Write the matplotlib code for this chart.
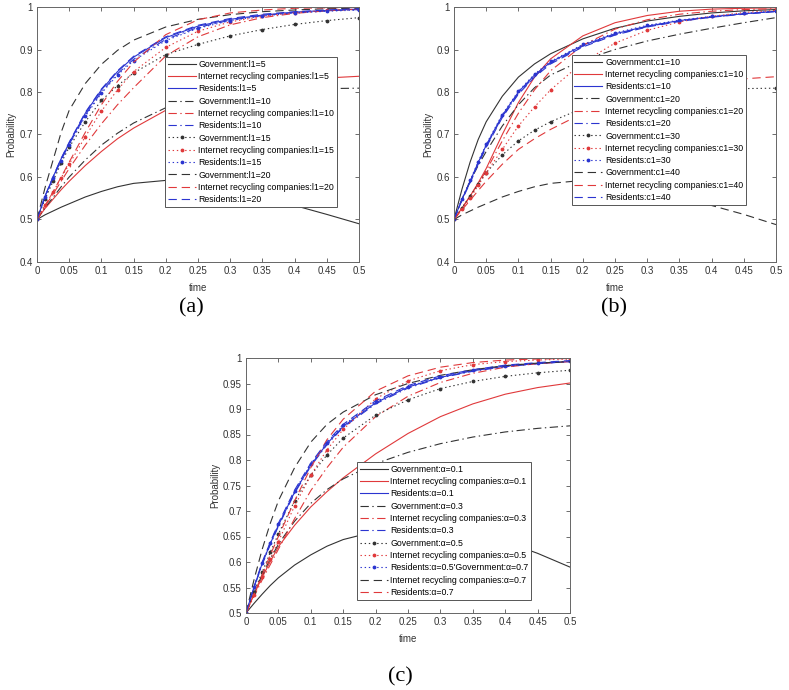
import numpy as np
import matplotlib.pyplot as plt

plt.rcParams['font.family'] = ['Liberation Sans', 'DejaVu Sans']
plt.rcParams['lines.scale_dashes'] = False

# time points
t = [0, 0.0125, 0.025, 0.0375, 0.05, 0.075, 0.1, 0.125, 0.15, 0.2, 0.25, 0.3, 0.35, 0.4, 0.45, 0.5]

# (a) l1 = 5, 10, 15, 20
a_gov_5 = [0.5, 0.511, 0.52, 0.529, 0.537, 0.553, 0.566, 0.577, 0.585, 0.592, 0.587, 0.576, 0.557, 0.533, 0.512, 0.49]
a_irc_5 = [0.5, 0.526, 0.548, 0.57, 0.59, 0.627, 0.66, 0.69, 0.715, 0.757, 0.786, 0.805, 0.818, 0.827, 0.833, 0.837]
a_res_5 = [0.5, 0.555, 0.6, 0.643, 0.68, 0.75, 0.805, 0.848, 0.882, 0.928, 0.955, 0.971, 0.981, 0.988, 0.992, 0.995]
a_gov_10 = [0.5, 0.528, 0.552, 0.577, 0.6, 0.64, 0.675, 0.703, 0.727, 0.763, 0.783, 0.795, 0.802, 0.806, 0.808, 0.809]
a_irc_10 = [0.5, 0.531, 0.56, 0.59, 0.62, 0.675, 0.725, 0.77, 0.81, 0.885, 0.93, 0.958, 0.975, 0.985, 0.991, 0.995]
a_res_10 = [0.5, 0.553, 0.598, 0.64, 0.677, 0.746, 0.8, 0.843, 0.877, 0.924, 0.952, 0.969, 0.98, 0.987, 0.991, 0.994]
a_gov_15 = [0.5, 0.548, 0.59, 0.633, 0.67, 0.73, 0.78, 0.815, 0.845, 0.888, 0.912, 0.932, 0.947, 0.959, 0.968, 0.975]
a_irc_15 = [0.5, 0.533, 0.565, 0.598, 0.63, 0.695, 0.755, 0.805, 0.848, 0.905, 0.943, 0.965, 0.978, 0.987, 0.992, 0.995]
a_res_15 = [0.5, 0.552, 0.597, 0.638, 0.675, 0.743, 0.797, 0.84, 0.874, 0.921, 0.95, 0.968, 0.979, 0.986, 0.99, 0.993]
a_gov_20 = [0.5, 0.575, 0.64, 0.705, 0.757, 0.82, 0.865, 0.898, 0.922, 0.953, 0.971, 0.982, 0.989, 0.993, 0.996, 0.997]
a_irc_20 = [0.5, 0.533, 0.565, 0.6, 0.635, 0.705, 0.77, 0.825, 0.87, 0.935, 0.97, 0.986, 0.993, 0.997, 0.998, 0.999]
a_res_20 = [0.5, 0.555, 0.601, 0.644, 0.682, 0.752, 0.807, 0.85, 0.884, 0.93, 0.957, 0.973, 0.983, 0.989, 0.993, 0.996]

# (b) c1 = 10, 20, 30, 40
b_gov_10 = [0.5, 0.572, 0.635, 0.688, 0.73, 0.79, 0.835, 0.866, 0.89, 0.925, 0.95, 0.967, 0.978, 0.986, 0.991, 0.994]
b_irc_10 = [0.5, 0.527, 0.555, 0.586, 0.62, 0.7, 0.775, 0.835, 0.878, 0.932, 0.963, 0.98, 0.99, 0.995, 0.997, 0.998]
b_res_10 = [0.5, 0.548, 0.59, 0.634, 0.675, 0.745, 0.8, 0.84, 0.87, 0.91, 0.937, 0.955, 0.968, 0.977, 0.984, 0.99]
b_gov_20 = [0.5, 0.548, 0.59, 0.627, 0.66, 0.72, 0.77, 0.81, 0.84, 0.875, 0.9, 0.92, 0.936, 0.95, 0.963, 0.975]
b_irc_20 = [0.5, 0.527, 0.555, 0.584, 0.615, 0.685, 0.75, 0.805, 0.85, 0.91, 0.948, 0.97, 0.983, 0.99, 0.994, 0.996]
b_res_20 = [0.5, 0.547, 0.588, 0.632, 0.672, 0.742, 0.797, 0.837, 0.868, 0.908, 0.935, 0.954, 0.967, 0.976, 0.984, 0.99]
b_gov_30 = [0.5, 0.528, 0.555, 0.583, 0.61, 0.652, 0.685, 0.71, 0.73, 0.762, 0.782, 0.795, 0.802, 0.806, 0.808, 0.809]
b_irc_30 = [0.5, 0.525, 0.55, 0.58, 0.61, 0.665, 0.72, 0.765, 0.805, 0.87, 0.915, 0.945, 0.965, 0.978, 0.987, 0.992]
b_res_30 = [0.5, 0.549, 0.592, 0.636, 0.677, 0.747, 0.802, 0.842, 0.872, 0.912, 0.939, 0.957, 0.969, 0.978, 0.985, 0.99]
b_gov_40 = [0.5, 0.511, 0.52, 0.529, 0.537, 0.553, 0.566, 0.577, 0.585, 0.592, 0.587, 0.576, 0.557, 0.533, 0.512, 0.488]
b_irc_40 = [0.5, 0.523, 0.545, 0.568, 0.59, 0.63, 0.665, 0.69, 0.712, 0.75, 0.777, 0.797, 0.812, 0.823, 0.831, 0.836]
b_res_40 = [0.5, 0.546, 0.586, 0.63, 0.67, 0.74, 0.795, 0.835, 0.866, 0.906, 0.934, 0.953, 0.966, 0.976, 0.983, 0.989]

# (c) alpha = 0.1, 0.3, 0.5, 0.7
c_gov_1 = [0.5, 0.519, 0.537, 0.554, 0.569, 0.594, 0.614, 0.631, 0.644, 0.66, 0.667, 0.665, 0.656, 0.64, 0.617, 0.59]
c_irc_1 = [0.5, 0.537, 0.57, 0.601, 0.63, 0.672, 0.708, 0.738, 0.765, 0.812, 0.852, 0.885, 0.91, 0.929, 0.942, 0.951]
c_res_1 = [0.5, 0.551, 0.597, 0.636, 0.672, 0.737, 0.79, 0.832, 0.866, 0.912, 0.943, 0.962, 0.975, 0.984, 0.989, 0.993]
c_gov_3 = [0.5, 0.54, 0.575, 0.606, 0.635, 0.68, 0.715, 0.742, 0.763, 0.793, 0.815, 0.832, 0.845, 0.855, 0.862, 0.867]
c_irc_3 = [0.5, 0.533, 0.565, 0.595, 0.625, 0.685, 0.74, 0.785, 0.825, 0.885, 0.925, 0.952, 0.97, 0.982, 0.989, 0.993]
c_res_3 = [0.5, 0.55, 0.595, 0.634, 0.67, 0.735, 0.788, 0.83, 0.864, 0.91, 0.941, 0.961, 0.974, 0.983, 0.989, 0.993]
c_gov_5 = [0.5, 0.542, 0.58, 0.619, 0.655, 0.72, 0.77, 0.81, 0.843, 0.888, 0.918, 0.94, 0.954, 0.964, 0.971, 0.976]
c_irc_5 = [0.5, 0.536, 0.57, 0.606, 0.64, 0.71, 0.77, 0.82, 0.86, 0.92, 0.955, 0.975, 0.987, 0.993, 0.996, 0.998]
c_res_5 = [0.5, 0.551, 0.598, 0.637, 0.674, 0.739, 0.792, 0.834, 0.868, 0.914, 0.944, 0.963, 0.976, 0.985, 0.99, 0.994]
c_gov_7 = [0.5, 0.566, 0.625, 0.676, 0.72, 0.785, 0.835, 0.87, 0.894, 0.928, 0.95, 0.966, 0.977, 0.985, 0.99, 0.993]
c_irc_7 = [0.5, 0.538, 0.575, 0.614, 0.65, 0.72, 0.785, 0.84, 0.88, 0.935, 0.965, 0.982, 0.991, 0.996, 0.998, 0.999]
c_res_7 = [0.5, 0.552, 0.6, 0.639, 0.676, 0.741, 0.794, 0.836, 0.87, 0.916, 0.946, 0.965, 0.977, 0.986, 0.991, 0.995]

labels_a = ['Government:l1=5', 'Internet recycling companies:l1=5', 'Residents:l1=5',
            'Government:l1=10', 'Internet recycling companies:l1=10', 'Residents:l1=10',
            'Government:l1=15', 'Internet recycling companies:l1=15', 'Residents:l1=15',
            'Government:l1=20', 'Internet recycling companies:l1=20', 'Residents:l1=20']
labels_b = ['Government:c1=10', 'Internet recycling companies:c1=10', 'Residents:c1=10',
            'Government:c1=20', 'Internet recycling companies:c1=20', 'Residents:c1=20',
            'Government:c1=30', 'Internet recycling companies:c1=30', 'Residents:c1=30',
            'Government:c1=40', 'Internet recycling companies:c1=40', 'Residents:c1=40']
labels_c = ['Government:α=0.1', 'Internet recycling companies:α=0.1', 'Residents:α=0.1',
            'Government:α=0.3', 'Internet recycling companies:α=0.3', 'Residents:α=0.3',
            'Government:α=0.5', 'Internet recycling companies:α=0.5', "Residents:α=0.5'Government:α=0.7",
            'Internet recycling companies:α=0.7', 'Residents:α=0.7', '_nolegend_']

colors = ['#333333', '#e0393b', '#2b35d0']
# solid, dash-dot, dotted, dashed (matlab-like dash lengths)
styles = ['-', (0, (6, 2.5, 1, 2.5)), (0, (1, 2)), (0, (6, 3.5))]

fig = plt.figure(figsize=(7.89, 6.9), dpi=100)


def panel(rect, curves, labels, ylim, ystep, leg_xy, caption, cap_xy):
    ax = fig.add_axes(rect)
    for i, y in enumerate(curves):
        g = i // 3
        kw = dict(color=colors[i % 3], ls=styles[g], lw=0.8)
        if g == 2:
            kw.update(marker='.', ms=3.5)
        ax.plot(t, y, label=labels[i], **kw)
    ax.set_xlim(0, 0.5)
    ax.set_ylim(*ylim)
    ax.set_xticks(np.arange(0, 0.501, 0.05))
    ax.set_xticklabels(['0', '0.05', '0.1', '0.15', '0.2', '0.25', '0.3', '0.35', '0.4', '0.45', '0.5'])
    yt = np.arange(ylim[0], ylim[1] + 1e-6, ystep)
    ax.set_yticks(yt)
    ax.set_yticklabels(['%g' % round(v, 2) for v in yt])
    ax.tick_params(direction='in', top=True, right=True, length=3, width=0.6,
                   labelsize=7, colors='#555555', labelcolor='#333333', pad=3)
    for s in ax.spines.values():
        s.set_color('#666666')
        s.set_linewidth(0.7)
    ax.set_xlabel('time', fontsize=7, color='#333333', labelpad=5)
    ax.set_ylabel('Probability', fontsize=7, color='#333333', labelpad=2)
    leg = ax.legend(loc='upper left', bbox_to_anchor=leg_xy, borderaxespad=0,
                    fontsize=6.3, handlelength=3.2, labelspacing=0.38,
                    handletextpad=0.3, borderpad=0.3, fancybox=False, framealpha=1)
    leg.get_frame().set_edgecolor('#555555')
    leg.get_frame().set_linewidth(0.7)
    fig.text(cap_xy[0], cap_xy[1], caption, fontsize=16, family='Liberation Serif',
             ha='center', va='center')
    return ax


W, H = 789.0, 690.0
panel([37 / W, 1 - 262 / H, 322 / W, 255 / H],
      [a_gov_5, a_irc_5, a_res_5, a_gov_10, a_irc_10, a_res_10,
       a_gov_15, a_irc_15, a_res_15, a_gov_20, a_irc_20, a_res_20],
      labels_a, (0.4, 1.0), 0.1, (0.398, 0.804), '(a)', (191 / W, 1 - 308 / H))
panel([454 / W, 1 - 262 / H, 322 / W, 255 / H],
      [b_gov_10, b_irc_10, b_res_10, b_gov_20, b_irc_20, b_res_20,
       b_gov_30, b_irc_30, b_res_30, b_gov_40, b_irc_40, b_res_40],
      labels_b, (0.4, 1.0), 0.1, (0.366, 0.812), '(b)', (614 / W, 1 - 308 / H))
panel([246 / W, 1 - 613 / H, 324 / W, 255 / H],
      [c_gov_1, c_irc_1, c_res_1, c_gov_3, c_irc_3, c_res_3,
       c_gov_5, c_irc_5, c_res_5, c_gov_7, c_irc_7, c_res_7],
      labels_c, (0.5, 1.0), 0.05, (0.343, 0.592), '(c)', (400 / W, 1 - 677 / H))

fig.savefig('out.png', dpi=100)
